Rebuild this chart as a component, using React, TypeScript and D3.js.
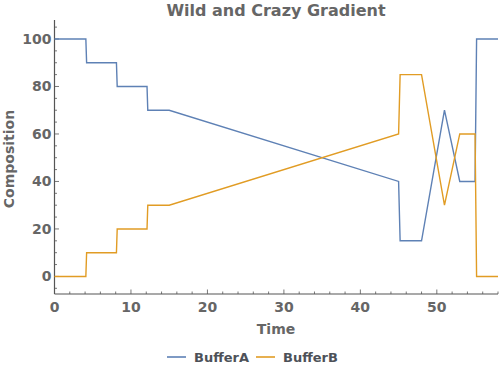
import * as d3 from 'd3';
import React, { useEffect, useRef } from 'react';

const timeA = [0, 4.1, 4.2, 8.1, 8.2, 12.1, 12.2, 15, 45, 45.2, 48, 51, 53, 55, 55.2, 58];
const bufferA = [100, 100, 90, 90, 80, 80, 70, 70, 40, 15, 15, 70, 40, 40, 100, 100];
const bufferB = [0, 0, 10, 10, 20, 20, 30, 30, 60, 85, 85, 30, 60, 60, 0, 0];
const seriesNames = ['BufferA', 'BufferB'];
const seriesColors = ['#5e81b5', '#e19c24'];
const xTicks = [0, 10, 20, 30, 40, 50];
const yTicks = [0, 20, 40, 60, 80, 100];

const font = '"DejaVu Sans", sans-serif';
const grey = '#666666';

const App: React.FC = () => {
  const svgRef = useRef<SVGSVGElement>(null);

  useEffect(() => {
    if (!svgRef.current) return;
    const svg = d3.select(svgRef.current);
    svg.selectAll('*').remove();

    const left = 54.5, right = 498, top = 20, bottom = 294;

    const x = d3.scaleLinear().domain([0, 58]).range([left, right]);
    const y = d3.scaleLinear().domain([-7.4, 108]).range([bottom, top]);

    // axes lines
    svg.append('line')
      .attr('x1', left).attr('x2', right).attr('y1', bottom).attr('y2', bottom)
      .attr('stroke', '#555').attr('stroke-width', 1.2);
    svg.append('line')
      .attr('x1', left).attr('x2', left).attr('y1', top).attr('y2', bottom)
      .attr('stroke', '#555').attr('stroke-width', 1.2);

    // x ticks
    const xMinor = d3.range(0, 59, 2).filter(v => v % 10 !== 0);
    svg.append('g').selectAll('line').data(xMinor).join('line')
      .attr('x1', d => x(d)).attr('x2', d => x(d))
      .attr('y1', bottom).attr('y2', bottom - 2.5)
      .attr('stroke', '#555').attr('stroke-width', 0.8);
    svg.append('g').selectAll('line').data(xTicks).join('line')
      .attr('x1', d => x(d)).attr('x2', d => x(d))
      .attr('y1', bottom).attr('y2', bottom - 4.5)
      .attr('stroke', '#555').attr('stroke-width', 0.8);
    svg.append('g').selectAll('text').data(xTicks).join('text')
      .attr('x', d => x(d)).attr('y', bottom + 18)
      .attr('text-anchor', 'middle')
      .attr('font-family', font).attr('font-weight', 'bold').attr('font-size', 14)
      .attr('fill', grey)
      .text(d => d);

    // y ticks
    const yMinor = d3.range(-5, 106, 5).filter(v => v % 20 !== 0);
    svg.append('g').selectAll('line').data(yMinor).join('line')
      .attr('x1', left).attr('x2', left + 2.5)
      .attr('y1', d => y(d)).attr('y2', d => y(d))
      .attr('stroke', '#555').attr('stroke-width', 0.8);
    svg.append('g').selectAll('line').data(yTicks).join('line')
      .attr('x1', left).attr('x2', left + 4.5)
      .attr('y1', d => y(d)).attr('y2', d => y(d))
      .attr('stroke', '#555').attr('stroke-width', 0.8);
    svg.append('g').selectAll('text').data(yTicks).join('text')
      .attr('x', left - 3).attr('y', d => y(d) + 5)
      .attr('text-anchor', 'end')
      .attr('font-family', font).attr('font-weight', 'bold').attr('font-size', 14)
      .attr('fill', grey)
      .text(d => d);

    // lines
    const line = d3.line<number>()
      .x((_, i) => x(timeA[i]))
      .y(d => y(d));
    [bufferA, bufferB].forEach((s, i) => {
      svg.append('path')
        .datum(s)
        .attr('fill', 'none')
        .attr('stroke', seriesColors[i])
        .attr('stroke-width', 1.4)
        .attr('d', line);
    });

    // title
    svg.append('text')
      .attr('x', 276).attr('y', 16)
      .attr('text-anchor', 'middle')
      .attr('font-family', font).attr('font-weight', 'bold').attr('font-size', 16)
      .attr('fill', grey)
      .text('Wild and Crazy Gradient');

    // axis labels
    svg.append('text')
      .attr('x', 276).attr('y', 334)
      .attr('text-anchor', 'middle')
      .attr('font-family', font).attr('font-weight', 'bold').attr('font-size', 14)
      .attr('fill', grey)
      .text('Time');
    svg.append('text')
      .attr('transform', `translate(14,${(top + bottom) / 2 + 2}) rotate(-90)`)
      .attr('text-anchor', 'middle')
      .attr('font-family', font).attr('font-weight', 'bold').attr('font-size', 14)
      .attr('fill', grey)
      .text('Composition');

    // legend
    const legendX = [167, 256];
    seriesNames.forEach((name, i) => {
      const g = svg.append('g');
      g.append('line')
        .attr('x1', legendX[i]).attr('x2', legendX[i] + 19)
        .attr('y1', 357).attr('y2', 357)
        .attr('stroke', seriesColors[i]).attr('stroke-width', 1.6);
      g.append('text')
        .attr('x', legendX[i] + 27).attr('y', 361.5)
        .attr('font-family', font).attr('font-weight', 'bold').attr('font-size', 13)
        .attr('fill', '#4d5158')
        .text(name);
    });
  }, []);

  return (
    <svg
      ref={svgRef}
      width={500}
      height={372}
      style={{ position: 'absolute', left: 0, top: 0, background: '#fff' }}
    />
  );
};

export default App;
